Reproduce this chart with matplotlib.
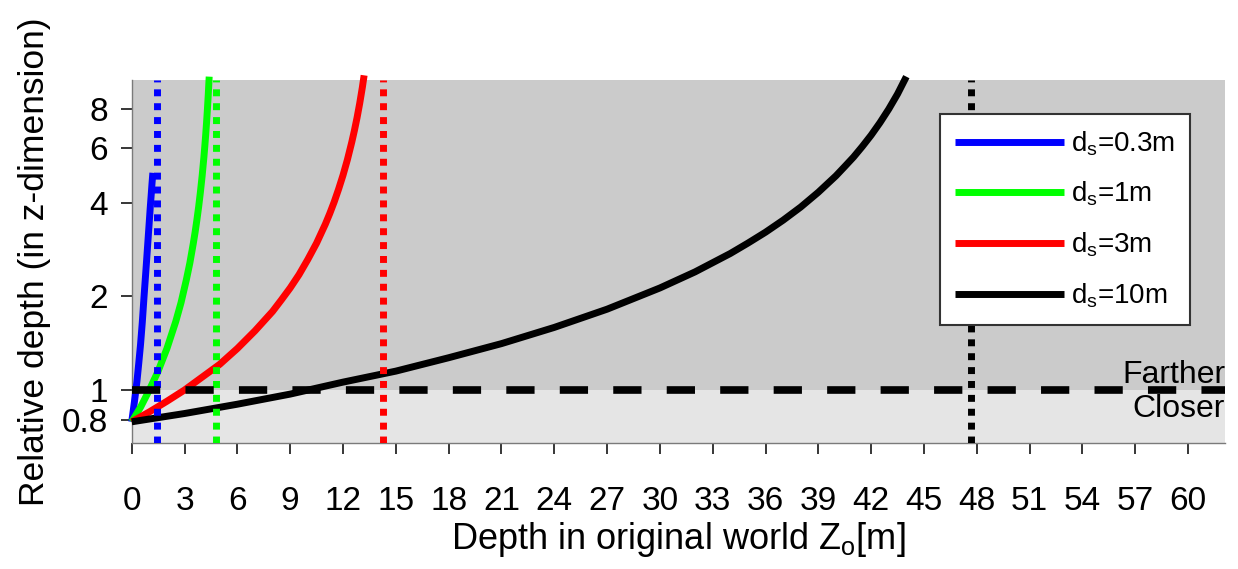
import matplotlib
matplotlib.use("Agg")
import matplotlib.pyplot as plt
from matplotlib.transforms import blended_transform_factory

plt.rcParams['font.family'] = ['Liberation Sans', 'DejaVu Sans']
plt.rcParams['mathtext.fontset'] = 'custom'
plt.rcParams['mathtext.rm'] = 'Liberation Sans'
plt.rcParams['mathtext.it'] = 'Liberation Sans:italic'

# relative depth curves for each stereo baseline d_s
depth_03 = [0, 0.1, 0.2, 0.3, 0.4, 0.5, 0.6, 0.7, 0.8, 0.9, 1.0, 1.05, 1.1, 1.15, 1.2]
rel_03 = [0.79, 0.87, 0.96, 1.07, 1.22, 1.40, 1.65, 2.0, 2.4, 2.9, 3.5, 3.85, 4.2, 4.6, 5.0]

depth_1 = [0, 0.5, 1.0, 1.5, 2.0, 2.5, 2.8, 3.1, 3.3, 3.5, 3.6, 3.7, 3.8, 3.9, 4.0,
           4.1, 4.15, 4.2, 4.25, 4.3, 4.35, 4.4]
rel_1 = [0.79, 0.88, 1.0, 1.15, 1.36, 1.66, 1.91, 2.26, 2.56, 2.97, 3.22, 3.52, 3.88, 4.33, 4.89,
         5.62, 6.08, 6.61, 7.25, 8.02, 8.97, 10.2]

depth_3 = [0, 1, 2, 3, 4, 5, 6, 7, 8, 8.5, 9, 9.5, 10, 10.5, 11, 11.25, 11.5, 11.75, 12,
           12.25, 12.5, 12.65, 12.8, 12.95, 13.1, 13.2]
rel_3 = [0.79, 0.85, 0.92, 1.0, 1.10, 1.21, 1.36, 1.55, 1.79, 1.95, 2.13, 2.35, 2.63, 2.97, 3.42,
         3.70, 4.03, 4.43, 4.91, 5.51, 6.28, 6.85, 7.53, 8.37, 9.42, 10.3]

depth_10 = [0, 3, 6, 9, 12, 15, 18, 21, 24, 27, 30, 32, 34, 35, 36, 37, 38, 39, 40,
            40.5, 41, 41.5, 42, 42.5, 43, 43.5, 44]
rel_10 = [0.79, 0.84, 0.90, 0.97, 1.06, 1.15, 1.27, 1.41, 1.59, 1.82, 2.13, 2.40, 2.75, 2.97,
          3.22, 3.52, 3.88, 4.33, 4.89, 5.24, 5.62, 6.08, 6.61, 7.25, 8.02, 8.97, 10.2]

# depth where each curve runs off (dotted limits)
limits = [1.43, 4.77, 14.3, 47.7]
colors = ['#0000ff', '#00ff00', '#ff0000', '#000000']
labels = [r'd$_\mathrm{s}$=0.3m', r'd$_\mathrm{s}$=1m', r'd$_\mathrm{s}$=3m', r'd$_\mathrm{s}$=10m']

xticks = list(range(0, 61, 3))
yticks = [0.8, 1, 2, 4, 6, 8]
ytick_labels = ['0.8', '1', '2', '4', '6', '8']

fig = plt.figure(figsize=(12.38, 5.69), dpi=100)
ax = fig.add_axes([0.1064, 0.2214, 0.8831, 0.6380])
ax.set_yscale('log')
ax.set_xlim(0, 62.1)
ax.set_ylim(0.675, 9.95)

ax.axhspan(1, 20, color='#cbcbcb', lw=0, zorder=0)
ax.axhspan(0.1, 1, color='#e5e5e5', lw=0, zorder=0)

series = [(depth_03, rel_03), (depth_1, rel_1), (depth_3, rel_3), (depth_10, rel_10)]
for (xs, ys), c, lab in zip(series, colors, labels):
    ax.plot(xs, ys, color=c, lw=5, label=lab, zorder=3, clip_on=False,
            solid_joinstyle='round', solid_capstyle='butt')

for x, c in zip(limits, colors):
    ax.axvline(x, color=c, lw=5, linestyle=(0, (1, 1)), zorder=4)

ax.axhline(1, color='black', lw=5.5, linestyle=(0, (3.7, 3.3)), zorder=5)

trans = blended_transform_factory(ax.transAxes, ax.transData)
ax.text(1.0, 1.056, 'Farther', transform=trans, ha='right', va='baseline', fontsize=23, zorder=6)
ax.text(1.0, 0.816, 'Closer', transform=trans, ha='right', va='baseline', fontsize=23, zorder=6)

ax.set_xticks(xticks)
ax.set_xticklabels([str(t) for t in xticks])
ax.set_yticks(yticks)
ax.set_yticklabels(ytick_labels)
ax.minorticks_off()
ax.tick_params(axis='x', direction='out', length=8, width=1.1, pad=23, labelsize=24)
ax.tick_params(axis='y', direction='out', length=8, width=1.1, pad=9, labelsize=24)

for side in ['top', 'right']:
    ax.spines[side].set_visible(False)
for side in ['left', 'bottom']:
    ax.spines[side].set_color('#7a7a7a')
    ax.spines[side].set_linewidth(1.0)

ax.set_xlabel(r'Depth in original world Z$_\mathrm{o}$[m]', fontsize=26, labelpad=2)
ax.set_ylabel('Relative depth (in z-dimension)', fontsize=25.5, labelpad=8)

leg = ax.legend(loc='upper right', bbox_to_anchor=(1190 / 1238, 1 - 114 / 569),
                bbox_transform=fig.transFigure, fontsize=20, frameon=True, fancybox=False,
                handlelength=3.9, handletextpad=0.25, labelspacing=0.8, borderpad=0.55,
                borderaxespad=0)
leg.get_frame().set_edgecolor('#333333')
leg.get_frame().set_linewidth(1.5)
leg.get_frame().set_alpha(1)
leg.set_zorder(10)

fig.savefig('out.png', dpi=100)
